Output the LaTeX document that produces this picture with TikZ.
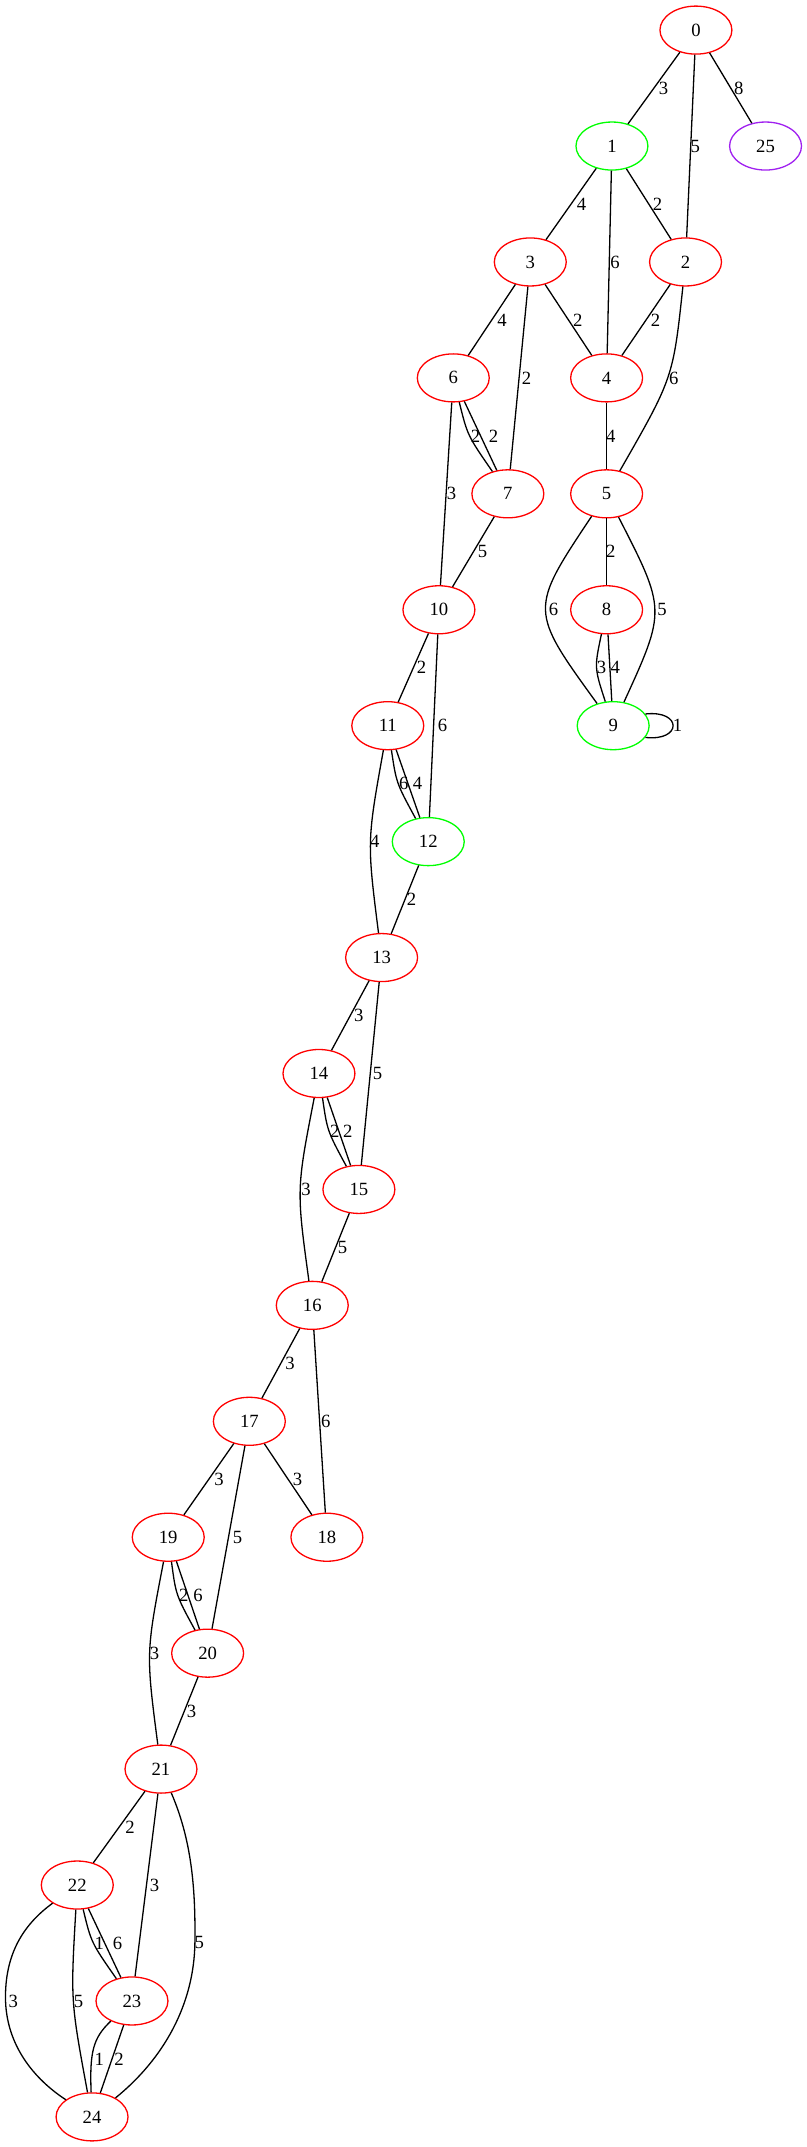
\documentclass[tikz,border=0pt]{standalone}
\usepackage{fontspec}
\setmainfont{Liberation Serif}
\usetikzlibrary{shapes.geometric}
\definecolor{gvred}{RGB}{255,0,0}
\definecolor{gvgreen}{RGB}{0,255,0}
\definecolor{gvpurple}{RGB}{160,32,240}
\tikzset{
  gv/.style={ellipse, draw, line width=0.95pt, minimum width=52.6pt, minimum height=35.1pt, inner sep=0pt, font=\fontsize{13.65}{16}\selectfont},
  rn/.style={gv, draw=gvred},
  gn/.style={gv, draw=gvgreen},
  pn/.style={gv, draw=gvpurple},
  el/.style={inner sep=0pt, font=\fontsize{13.65}{16}\selectfont},
  ed/.style={line width=0.95pt, draw=black}
}
\begin{document}
\begin{tikzpicture}[x=1pt, y=-1pt]
\useasboundingbox[fill=white] (0,0) rectangle (590,1569.7);
% nodes
\node[rn] (n0)  at (508.8,22)     {0};
\node[gn] (n1)  at (447.4,106.76) {1};
\node[pn] (n25) at (559.7,106.76) {25};
\node[rn] (n3)  at (387.7,191.52) {3};
\node[rn] (n2)  at (501.2,191.52) {2};
\node[rn] (n6)  at (331.4,276.28) {6};
\node[rn] (n4)  at (443.5,276.28) {4};
\node[rn] (n7)  at (371.3,361.04) {7};
\node[rn] (n5)  at (443.5,361.04) {5};
\node[rn] (n10) at (320.9,445.8)  {10};
\node[rn] (n8)  at (443.5,445.8)  {8};
\node[rn] (n11) at (283.5,530.56) {11};
\node[gn] (n9)  at (448.3,530.56) {9};
\node[gn] (n12) at (313.1,615.32) {12};
\node[rn] (n13) at (279.0,700.08) {13};
\node[rn] (n14) at (233.2,784.84) {14};
\node[rn] (n15) at (262.4,869.6)  {15};
\node[rn] (n16) at (228.3,954.36) {16};
\node[rn] (n17) at (182.3,1039.12) {17};
\node[rn] (n19) at (123.0,1123.88) {19};
\node[rn] (n18) at (239.0,1123.88) {18};
\node[rn] (n20) at (151.8,1208.64) {20};
\node[rn] (n21) at (117.7,1293.4)  {21};
\node[rn] (n22) at (56.5,1378.16)  {22};
\node[rn] (n23) at (96.5,1462.92)  {23};
\node[rn] (n24) at (67.3,1547.68)  {24};
% edges
\draw[ed] (n0) -- (n1);
\draw[ed] (n0) -- (n2);
\draw[ed] (n0) -- (n25);
\draw[ed] (n1) -- (n3);
\draw[ed] (n1) -- (n2);
\draw[ed] (n1) -- (n4);
\draw[ed] (n3) -- (n6);
\draw[ed] (n3) -- (n4);
\draw[ed] (n2) -- (n4);
\draw[ed] (n3) -- (n7);
\draw[ed] (n2) .. controls (492.1,276.3) .. (n5);
\draw[ed] (n6) .. controls (341.8,318.4) .. (n7);
\draw[ed] (n6) -- (n7);
\draw[ed] (n4) -- (n5);
\draw[ed] (n6) -- (n10);
\draw[ed] (n7) -- (n10);
\draw[ed] (n5) -- (n8);
\draw[ed] (n5) .. controls (386.9,445.9) .. (n9);
\draw[ed] (n5) .. controls (487,445.9) .. (n9);
\draw[ed] (n8) .. controls (434.5,488.2) .. (n9);
\draw[ed] (n8) -- (n9);
\draw[ed] (n9.20) .. controls +(27pt,3pt) and +(27pt,-3pt) .. (n9.-20);
\draw[ed] (n10) -- (n11);
\draw[ed] (n10) -- (n12);
\draw[ed] (n11) .. controls (289.8,572.6) .. (n12);
\draw[ed] (n11) -- (n12);
\draw[ed] (n11) .. controls (268.3,615.3) .. (n13);
\draw[ed] (n12) -- (n13);
\draw[ed] (n13) -- (n14);
\draw[ed] (n13) -- (n15);
\draw[ed] (n14) .. controls (239.3,826.9) .. (n15);
\draw[ed] (n14) -- (n15);
\draw[ed] (n14) .. controls (216.7,869.6) .. (n16);
\draw[ed] (n15) -- (n16);
\draw[ed] (n16) -- (n17);
\draw[ed] (n16) -- (n18);
\draw[ed] (n17) -- (n19);
\draw[ed] (n17) -- (n18);
\draw[ed] (n17) -- (n20);
\draw[ed] (n19) .. controls (128.6,1166.1) .. (n20);
\draw[ed] (n19) -- (n20);
\draw[ed] (n19) .. controls (106.7,1208.6) .. (n21);
\draw[ed] (n20) -- (n21);
\draw[ed] (n21) -- (n22);
\draw[ed] (n21) -- (n23);
\draw[ed] (n21) .. controls (140,1345) and (143,1380) .. (142.5,1420) .. controls (142,1465) and (120,1505) .. (n24);
\draw[ed] (n22) .. controls (66.7,1420.3) .. (n23);
\draw[ed] (n22) -- (n23);
\draw[ed] (n22) .. controls (20,1405) and (4,1425) .. (4,1460) .. controls (4,1495) and (25,1520) .. (n24);
\draw[ed] (n22) .. controls (51.6,1462.7) .. (n24);
\draw[ed] (n23) .. controls (68,1490) and (65.5,1500) .. (n24);
\draw[ed] (n23) -- (n24);
% edge labels
\node[el] (l0-1)   at (485.1,64.4)  {3};
\node[el] (l0-2)   at (508.3,106.8) {5};
\node[el] (l0-25)  at (540.2,64.4)  {8};
\node[el] (l1-3)   at (425.2,149.1) {4};
\node[el] (l1-2)   at (480.8,149.1) {2};
\node[el] (l1-4)   at (449.6,191.5) {6};
\node[el] (l3-6)   at (367.0,233.9) {4};
\node[el] (l3-4)   at (422.5,233.9) {2};
\node[el] (l2-4)   at (479.3,233.9) {2};
\node[el] (l3-7)   at (385.0,276.3) {2};
\node[el] (l2-5)   at (492.7,276.3) {6};
\node[el] (l6-7a)  at (347.7,318.7) {2};
\node[el] (l6-7b)  at (360.9,318.7) {2};
\node[el] (l4-5)   at (446.6,318.7) {4};
\node[el] (l6-10)  at (330.2,361.0) {3};
\node[el] (l7-10)  at (352.8,403.4) {5};
\node[el] (l5-8)   at (446.6,403.4) {2};
\node[el] (l5-9a)  at (404.7,445.8) {6};
\node[el] (l5-9b)  at (484.1,445.8) {5};
\node[el] (l8-9a)  at (439.8,488.2) {3};
\node[el] (l8-9b)  at (449.8,488.2) {4};
\node[el] (l9-9)   at (495.4,530.6) {1};
\node[el] (l10-11) at (308.2,488.2) {2};
\node[el] (l10-12) at (323.6,530.6) {6};
\node[el] (l11-12a) at (295.3,572.9) {6};
\node[el] (l11-12b) at (305.3,572.9) {4};
\node[el] (l11-13) at (274.1,615.3) {4};
\node[el] (l12-13) at (300.9,657.7) {2};
\node[el] (l13-14) at (262.4,742.5) {3};
\node[el] (l13-15) at (276.1,784.8) {5};
\node[el] (l14-15a) at (244.7,827.2) {2};
\node[el] (l14-15b) at (254.2,827.2) {2};
\node[el] (l14-16) at (223.7,869.6) {3};
\node[el] (l15-16) at (250.5,912.0) {5};
\node[el] (l16-17) at (212.0,996.7) {3};
\node[el] (l16-18) at (238.1,1039.1) {6};
\node[el] (l17-19) at (160.1,1081.5) {3};
\node[el] (l17-18) at (217.6,1081.5) {3};
\node[el] (l17-20) at (173.7,1123.9) {5};
\node[el] (l19-20a) at (134.3,1166.3) {2};
\node[el] (l19-20b) at (144.7,1166.3) {6};
\node[el] (l19-21) at (113.0,1208.6) {3};
\node[el] (l20-21) at (140.1,1251.0) {3};
\node[el] (l21-22) at (95.0,1335.8) {2};
\node[el] (l21-23) at (113.0,1378.2) {3};
\node[el] (l21-24) at (145.7,1420.5) {5};
\node[el] (l22-23a) at (72.6,1420.5) {1};
\node[el] (l22-23b) at (86.0,1420.5) {6};
\node[el] (l22-24a) at (9.7,1463.0) {3};
\node[el] (l22-24b) at (57.5,1463.0) {5};
\node[el] (l23-24a) at (72.6,1505.3) {1};
\node[el] (l23-24b) at (87.0,1505.3) {2};
\end{tikzpicture}
\end{document}
